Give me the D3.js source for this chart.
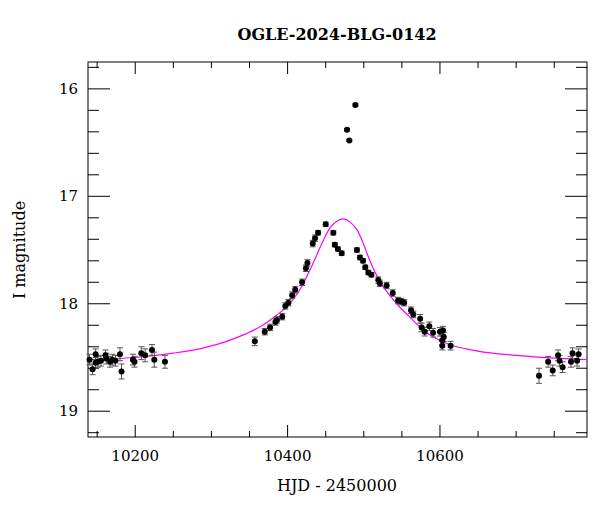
<!DOCTYPE html>
<html><head><meta charset="utf-8">
<script src="https://cdn.jsdelivr.net/npm/d3@7"></script>
<style>body{margin:0;background:#fff}text{font-family:"DejaVu Serif",serif}</style>
</head><body><svg id="c" width="600" height="512"></svg>
<script>
const hjd=[10140,10144,10148,10148,10151,10155,10161,10162,10167,10170,10174,10180,10182,10197,10199,10208,10213,10222,10225,10239,
10357,10370,10377,10384,10386,10393,10397,10401,10406,10410,10419,10424,10426,10433,10436,10440,10450,10460,10462,10466,10471,
10489,10478,10481,10491,10495,10499,10502,10506,10510,10519,10521,10530,10538,10545,10549,10553,10562,10565,10574,10576,10580,
10586,10591,10600,10604,10603,10605,10603,10614,10730,10742,10748,10755,10757,10761,10772,10774,10780,10782];
const mag=[18.52,18.61,18.47,18.55,18.54,18.53,18.48,18.51,18.54,18.52,18.53,18.47,18.63,18.52,18.54,18.46,18.48,18.43,18.52,18.54,
18.35,18.26,18.22,18.17,18.15,18.12,18.02,17.99,17.92,17.87,17.80,17.67,17.62,17.44,17.39,17.34,17.26,17.34,17.45,17.49,17.53,
16.15,16.38,16.48,17.50,17.57,17.60,17.66,17.71,17.73,17.78,17.81,17.83,17.90,17.97,17.98,17.99,18.06,18.10,18.14,18.22,18.26,
18.21,18.27,18.26,18.25,18.34,18.31,18.39,18.39,18.67,18.54,18.62,18.48,18.53,18.59,18.54,18.46,18.53,18.47];
const err=[0.05,0.05,0.05,0.05,0.05,0.05,0.05,0.05,0.05,0.05,0.05,0.06,0.07,0.05,0.05,0.06,0.06,0.05,0.07,0.06,
0.04,0.03,0.03,0.03,0.03,0.03,0.03,0.03,0.03,0.03,0.03,0.03,0.03,0.03,0.03,0.02,0.02,0.02,0.02,0.02,0.02,
0.01,0.01,0.01,0.02,0.02,0.02,0.02,0.02,0.02,0.03,0.03,0.03,0.03,0.03,0.03,0.03,0.03,0.03,0.04,0.04,0.04,
0.04,0.04,0.04,0.04,0.04,0.04,0.04,0.04,0.07,0.05,0.05,0.05,0.05,0.05,0.05,0.05,0.05,0.05];
const modelT=[10138,10200,10250,10290,10320,10345,10365,10385,10400,10420,10433,10445,10456,10465,10473,10482,10491,10500,10508,10521,10535,10547,10560,10577,10609,10650,10700,10793];
const modelM=[18.52,18.50,18.46,18.41,18.35,18.28,18.21,18.11,18.02,17.82,17.63,17.44,17.29,17.23,17.21,17.24,17.31,17.45,17.60,17.79,17.93,18.03,18.12,18.24,18.37,18.44,18.48,18.52];
const xTicks=[10200,10400,10600], yTicks=[16,17,18,19];

const svg=d3.select("#c");
const L=88,R=587,T=62,B=437;
const x=d3.scaleLinear().domain([10138,10793]).range([L,R]);
const y=d3.scaleLinear().domain([15.75,19.24]).range([T,B]);
const g=svg.append("g");
g.append("rect").attr("x",L).attr("y",T).attr("width",R-L).attr("height",B-T).attr("fill","none").attr("stroke","#000").attr("stroke-width",1);
const xMin=d3.range(10150,10800,50), yMin=d3.range(15.8,19.25,0.2).map(v=>+v.toFixed(1));
function tk(x1,y1,x2,y2){g.append("line").attr("x1",x1).attr("y1",y1).attr("x2",x2).attr("y2",y2).attr("stroke","#000");}
xMin.forEach(v=>{const big=v%200===0;const len=big?12:6;tk(x(v),B,x(v),B-len);tk(x(v),T,x(v),T+len);});
yMin.forEach(v=>{const big=Math.abs(v-Math.round(v))<1e-6;const len=big?22:11;tk(L,y(v),L+len,y(v));tk(R,y(v),R-len,y(v));});
g.append("path").datum(modelT.map((t,i)=>[t,modelM[i]])).attr("fill","none").attr("stroke","#ff00ff").attr("stroke-width",1.2)
 .attr("d",d3.line().x(d=>x(d[0])).y(d=>y(d[1])).curve(d3.curveMonotoneX));
const pts=hjd.map((t,i)=>({t,m:mag[i],e:err[i]}));
const eb=g.append("g").attr("stroke","#555").attr("stroke-width",1);
pts.forEach(p=>{const y1=y(p.m-p.e),y2=y(p.m+p.e),cx=x(p.t);
 eb.append("line").attr("x1",cx).attr("x2",cx).attr("y1",y1).attr("y2",y2);
 eb.append("line").attr("x1",cx-3).attr("x2",cx+3).attr("y1",y1).attr("y2",y1);
 eb.append("line").attr("x1",cx-3).attr("x2",cx+3).attr("y1",y2).attr("y2",y2);});
g.selectAll("circle").data(pts).join("circle").attr("cx",d=>x(d.t)).attr("cy",d=>y(d.m)).attr("r",3).attr("fill","#000");
xTicks.forEach(v=>svg.append("text").attr("x",x(v)).attr("y",B+24).attr("text-anchor","middle").attr("font-size",15).text(v));
yTicks.forEach(v=>svg.append("text").attr("x",L-10).attr("y",y(v)+5).attr("text-anchor","end").attr("font-size",15).text(v));
svg.append("text").attr("x",337).attr("y",40).attr("text-anchor","middle").attr("font-size",16).attr("font-weight",600).text("OGLE-2024-BLG-0142");
svg.append("text").attr("x",337).attr("y",491).attr("text-anchor","middle").attr("font-size",16).text("HJD - 2450000");
svg.append("text").attr("transform","translate(25,250) rotate(-90)").attr("text-anchor","middle").attr("font-size",16).text("I magnitude");
</script></body></html>
